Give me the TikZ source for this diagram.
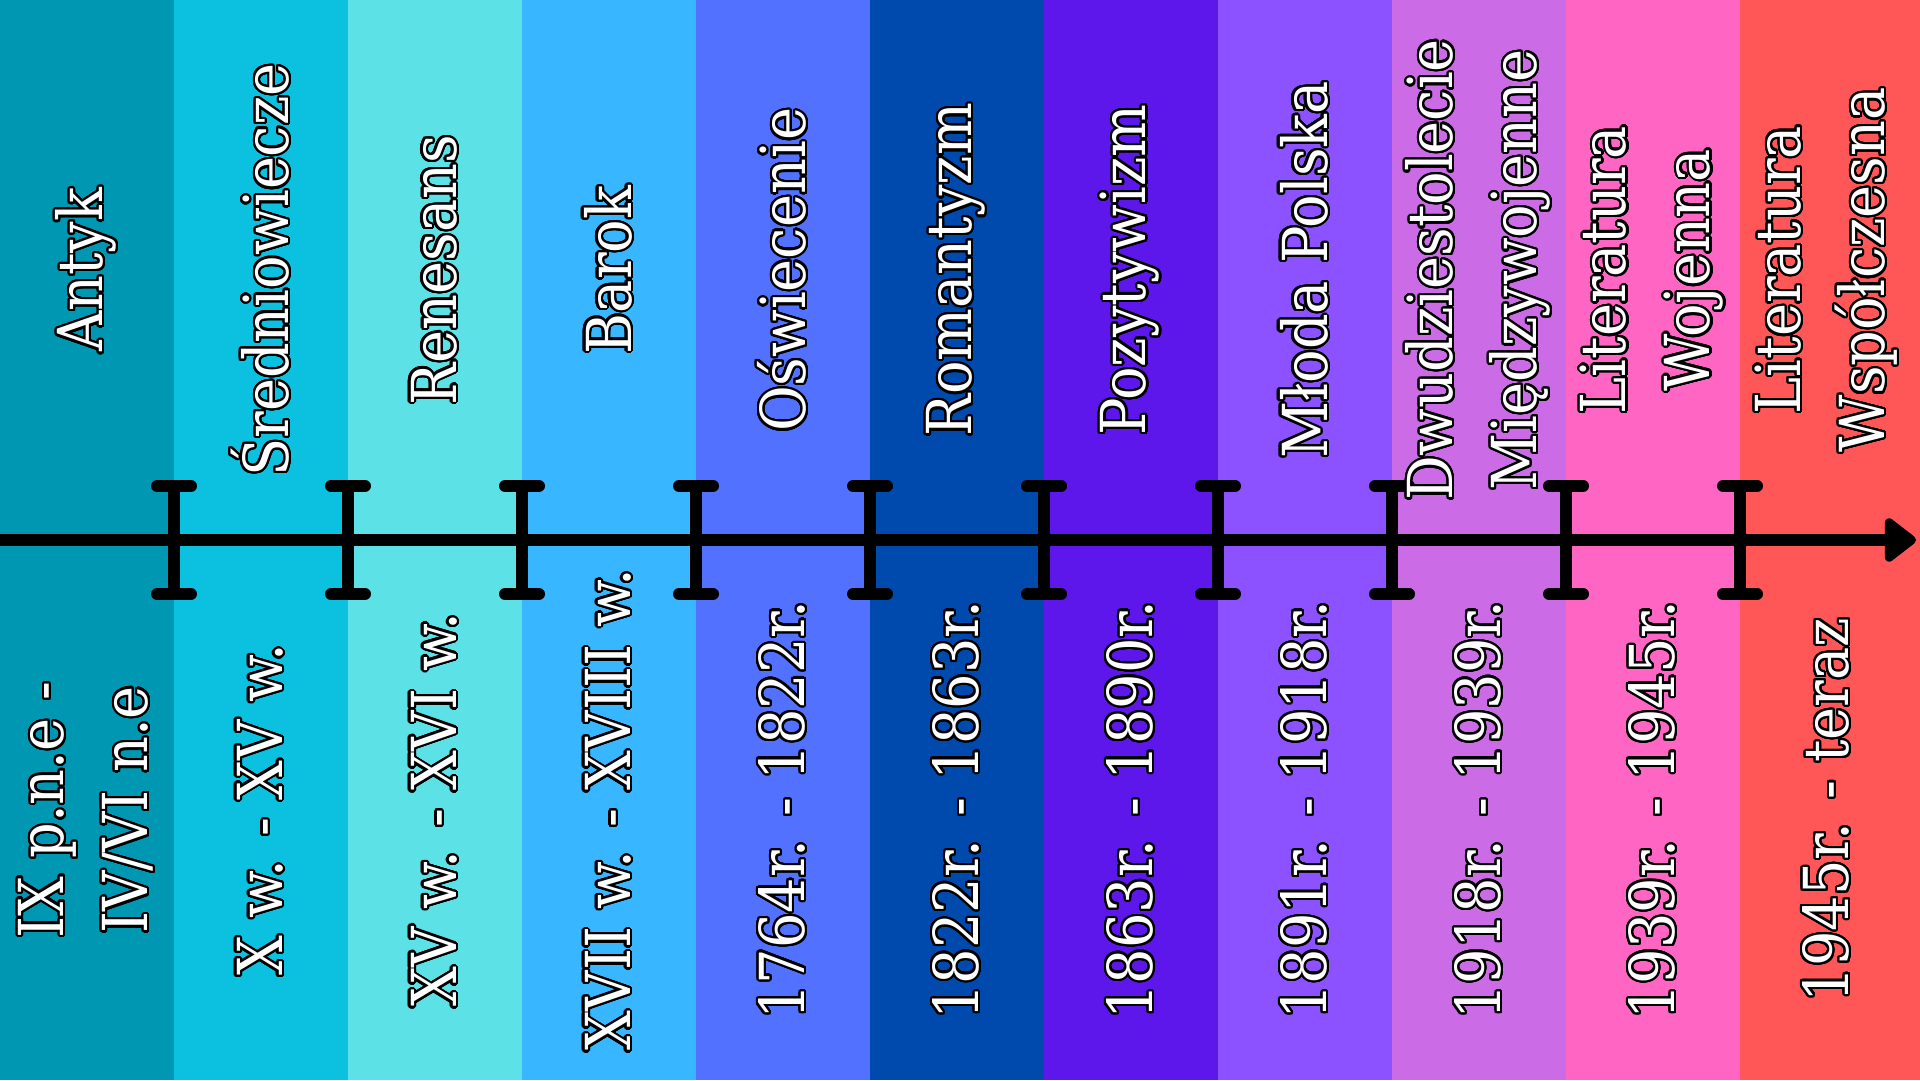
\documentclass[tikz,border=0pt]{standalone}
\usepackage{fontspec}
\setmainfont{DejaVu Serif Condensed}
\usepackage[copies]{contour}
\usetikzlibrary{arrows.meta}
\contourlength{2.2pt}
\contournumber{32}
\newcommand{\olt}[1]{\contour{black}{#1}}
\definecolor{antyk}{HTML}{0097B2}
\definecolor{sredn}{HTML}{0CC0DF}
\definecolor{renes}{HTML}{5CE1E6}
\definecolor{barok}{HTML}{38B6FF}
\definecolor{oswiec}{HTML}{5271FF}
\definecolor{romant}{HTML}{004AAD}
\definecolor{pozyt}{HTML}{5E17EB}
\definecolor{mloda}{HTML}{8C52FF}
\definecolor{dwudz}{HTML}{CB6CE6}
\definecolor{wojen}{HTML}{FF66C4}
\definecolor{wspol}{HTML}{FF5757}

\begin{document}
\begin{tikzpicture}[x=1pt,y=1pt,
    okres/.style={text=white, rotate=90, align=center, inner sep=0pt,
      font=\fontsize{62}{84}\selectfont},
    kreska/.style={line width=12pt, line cap=round}]
\useasboundingbox (0,0) rectangle (1920,1080);
% pasy epok
\fill[wspol] (0,0) rectangle (1920,1080);
\foreach \c [count=\i from 0] in {antyk,sredn,renes,barok,oswiec,romant,pozyt,mloda,dwudz,wojen}
  \fill[\c] (174*\i,0) rectangle (174*\i+174,1080);
% os czasu
\draw[line width=12pt, line cap=round, -{Triangle[length=34pt,width=50pt,round]}] (0,540) -- (1916,540);
\foreach \i in {1,...,10}
  \draw[kreska] (174*\i-17,594) -- (174*\i+17,594)
    (174*\i,594) -- (174*\i,486)
    (174*\i-17,486) -- (174*\i+17,486);
% nazwy i daty
\foreach \g/\d [count=\i] in {
    {\olt{Antyk}}/{\olt{IX p.n.e -}\\\olt{IV/VI n.e}},
    {\olt{Średniowiecze}}/{\olt{X w. - XV w.}},
    {\olt{Renesans}}/{\olt{XV w. - XVI w.}},
    {\olt{Barok}}/{\olt{XVII w. - XVIII w.}},
    {\olt{Oświecenie}}/{\olt{1764r. - 1822r.}},
    {\olt{Romantyzm}}/{\olt{1822r. - 1863r.}},
    {\olt{Pozytywizm}}/{\olt{1863r. - 1890r.}},
    {\olt{Młoda Polska}}/{\olt{1891r. - 1918r.}},
    {\olt{Dwudziestolecie}\\\olt{Międzywojenne}}/{\olt{1918r. - 1939r.}},
    {\olt{Literatura}\\\olt{Wojenna}}/{\olt{1939r. - 1945r.}},
    {\olt{Literatura}\\\olt{Współczesna}}/{\olt{1945r. - teraz}}}
{
  \node[okres] (nazwa-\i) at (174*\i-87,810) {\g};
  \node[okres] (daty-\i) at (174*\i-87,270) {\d};
}
\end{tikzpicture}
\end{document}
